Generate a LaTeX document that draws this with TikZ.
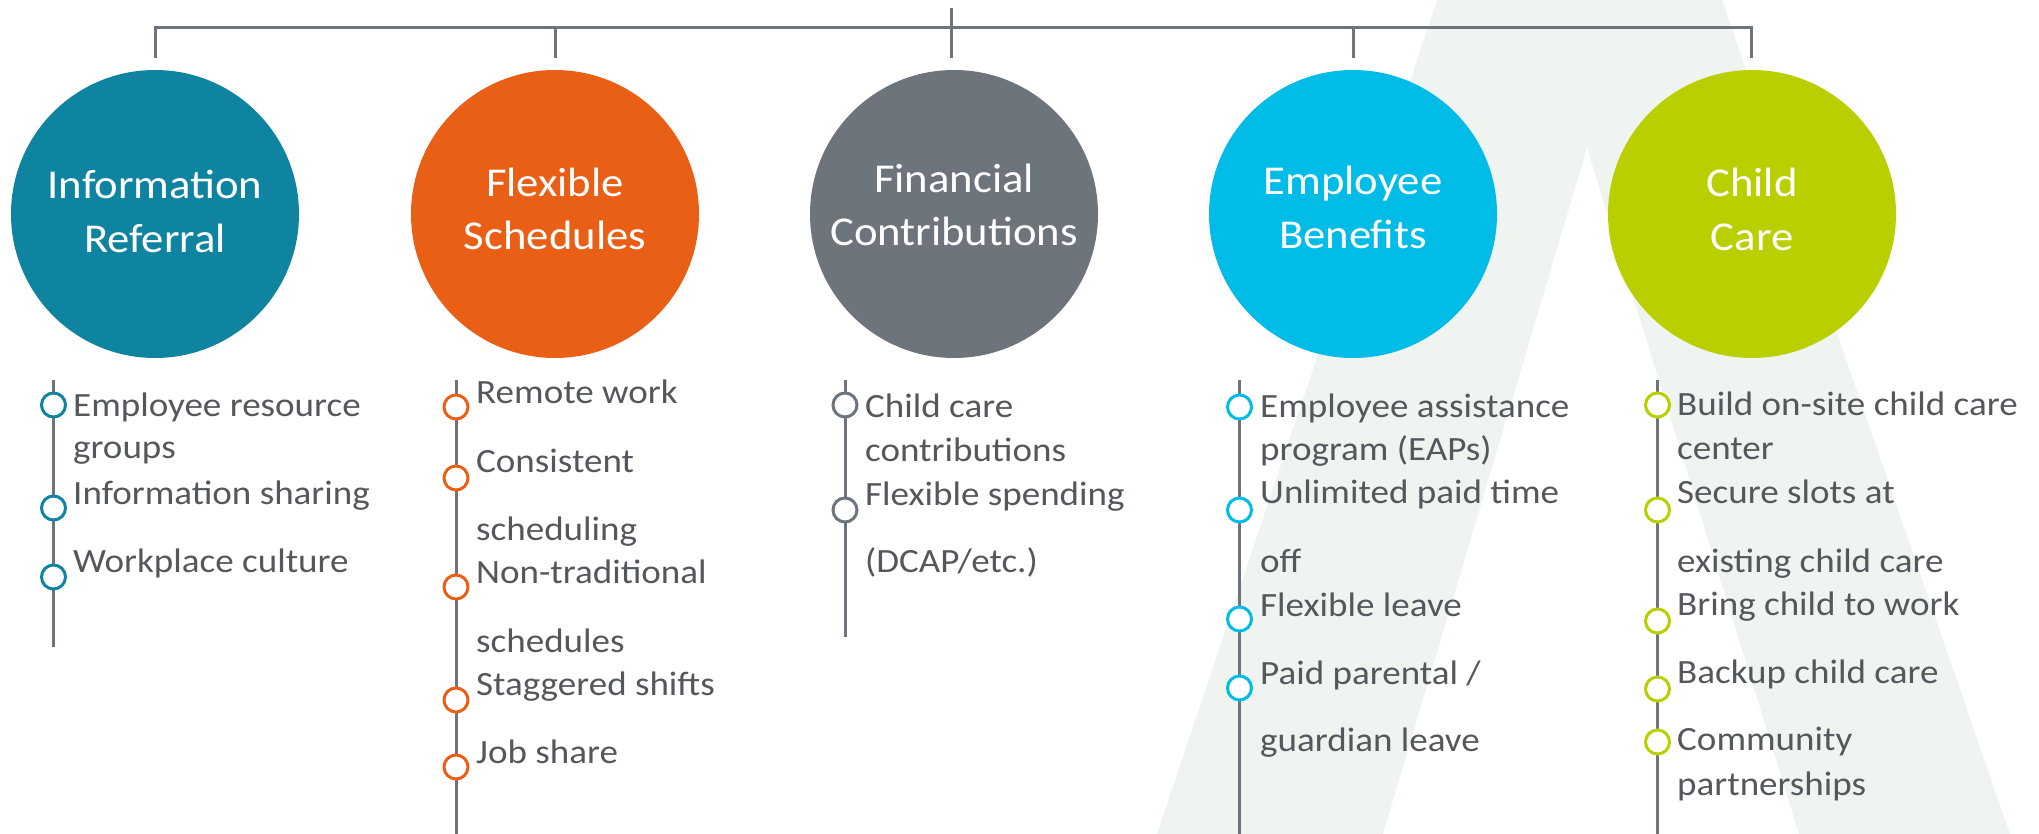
\documentclass[tikz,border=0pt]{standalone}
\usepackage{fontspec}
\setmainfont{Carlito}[FakeStretch=1.09]

\definecolor{infoTeal}{RGB}{14,132,160}
\definecolor{flexOrange}{RGB}{234,95,22}
\definecolor{finGrey}{RGB}{109,116,123}
\definecolor{beneCyan}{RGB}{0,188,231}
\definecolor{careLime}{RGB}{186,207,0}
\definecolor{ruleGrey}{RGB}{109,116,123}
\definecolor{copyGrey}{RGB}{84,88,93}
\definecolor{shapeTint}{RGB}{240,244,241}

\begin{document}
\begin{tikzpicture}[x=1pt,y=-1pt,
  bubble/.style={circle, fill=#1, minimum size=288pt, inner sep=0pt},
  headtext/.style={anchor=base, inner sep=0pt, text=white,
    font=\fontsize{41}{54}\selectfont},
  itemtext/.style={anchor=base west, inner sep=0pt, text=copyGrey,
    font=\fontsize{34}{42}\selectfont},
  ring/.style={circle, draw=#1, fill=white, line width=3pt,
    minimum size=24pt, inner sep=0pt},
  rule/.style={draw=ruleGrey, line width=3pt},
  stem/.style={draw=ruleGrey, line width=3pt}
]
\useasboundingbox (0,0) rectangle (2039,834);

% pale letter-shape in the background
\fill[shapeTint] (1437,0) -- (1722,0) -- (2010,834) -- (1799,834)
  -- (1587,148) -- (1383,834) -- (1157,834) -- cycle;

% category circles
\node[bubble=infoTeal]   (c1) at (155,214)  {};
\node[bubble=flexOrange] (c2) at (555,214)  {};
\node[bubble=finGrey]    (c3) at (954,214)  {};
\node[bubble=beneCyan]   (c4) at (1353,214) {};
\node[bubble=careLime]   (c5) at (1752,214) {};

% tree connectors on top
\coordinate (root) at (951,8);
\coordinate (hub)  at (951,28);
\coordinate (b1) at (155,28);
\coordinate (b2) at (555,28);
\coordinate (b4) at (1353,28);
\coordinate (b5) at (1751,28);
\coordinate (s1) at (155,58);
\coordinate (s2) at (555,58);
\coordinate (s3) at (951,58);
\coordinate (s4) at (1353,58);
\coordinate (s5) at (1751,58);
\draw[rule, line join=miter] (s1) -- (b1) -- (b5) -- (s5);
\draw[rule] (b2) -- (s2);
\draw[rule] (root) -- (s3);
\draw[rule] (b4) -- (s4);

% circle titles
\node[headtext] (h1a) at (155,199)  {Information};
\node[headtext] (h1b) at (155,253)  {Referral};
\node[headtext] (h2a) at (555,197)  {Flexible};
\node[headtext] (h2b) at (555,250)  {Schedules};
\node[headtext] (h3a) at (954,193)  {Financial};
\node[headtext] (h3b) at (954,246)  {Contributions};
\node[headtext] (h4a) at (1353,195) {Employee};
\node[headtext] (h4b) at (1353,249) {Benefits};
\node[headtext] (h5a) at (1752,197) {Child};
\node[headtext] (h5b) at (1752,251) {Care};

% list stems
\coordinate (t1) at (53.5,380);   \coordinate (e1) at (53.5,647);
\coordinate (t2) at (456,380);    \coordinate (e2) at (456,840);
\coordinate (t3) at (845,380);    \coordinate (e3) at (845,637);
\coordinate (t4) at (1239.5,380); \coordinate (e4) at (1239.5,840);
\coordinate (t5) at (1657.5,380); \coordinate (e5) at (1657.5,840);
\draw[stem] (t1) -- (e1);
\draw[stem] (t2) -- (e2);
\draw[stem] (t3) -- (e3);
\draw[stem] (t4) -- (e4);
\draw[stem] (t5) -- (e5);

% Information Referral
\node[ring=infoTeal] (r1a) at (53.5,405) {};
\node[ring=infoTeal] (r1b) at (53.5,508) {};
\node[ring=infoTeal] (r1c) at (53.5,577) {};
\node[itemtext] (i1a) at (73,416) {Employee resource};
\node[itemtext] (i1b) at (73,458) {groups};
\node[itemtext] (i1c) at (73,504) {Information sharing};
\node[itemtext] (i1d) at (73,572) {Workplace culture};

% Flexible Schedules
\node[ring=flexOrange] (r2a) at (456,407) {};
\node[ring=flexOrange] (r2b) at (456,478) {};
\node[ring=flexOrange] (r2c) at (456,587) {};
\node[ring=flexOrange] (r2d) at (456,700) {};
\node[ring=flexOrange] (r2e) at (456,767) {};
\node[itemtext] (i2a) at (476,403) {Remote work};
\node[itemtext] (i2b) at (476,472) {Consistent};
\node[itemtext] (i2c) at (476,540) {scheduling};
\node[itemtext] (i2d) at (476,583) {Non-traditional};
\node[itemtext] (i2e) at (476,652) {schedules};
\node[itemtext] (i2f) at (476,695) {Staggered shifts};
\node[itemtext] (i2g) at (476,763) {Job share};

% Financial Contributions
\node[ring=finGrey] (r3a) at (845,405) {};
\node[ring=finGrey] (r3b) at (845,510) {};
\node[itemtext] (i3a) at (865,417) {Child care};
\node[itemtext] (i3b) at (865,461) {contributions};
\node[itemtext] (i3c) at (865,505) {Flexible spending};
\node[itemtext] (i3d) at (865,572) {(DCAP/etc.)};

% Employee Benefits
\node[ring=beneCyan] (r4a) at (1239.5,407) {};
\node[ring=beneCyan] (r4b) at (1239.5,510) {};
\node[ring=beneCyan] (r4c) at (1239.5,619) {};
\node[ring=beneCyan] (r4d) at (1239.5,688) {};
\node[itemtext] (i4a) at (1260,417) {Employee assistance};
\node[itemtext] (i4b) at (1260,460) {program (EAPs)};
\node[itemtext] (i4c) at (1260,503) {Unlimited paid time};
\node[itemtext] (i4d) at (1260,572) {off};
\node[itemtext] (i4e) at (1260,616) {Flexible leave};
\node[itemtext] (i4f) at (1260,684) {Paid parental /};
\node[itemtext] (i4g) at (1260,751) {guardian leave};

% Child Care
\node[ring=careLime] (r5a) at (1657.5,405) {};
\node[ring=careLime] (r5b) at (1657.5,510) {};
\node[ring=careLime] (r5c) at (1657.5,621) {};
\node[ring=careLime] (r5d) at (1657.5,689) {};
\node[ring=careLime] (r5e) at (1657.5,742) {};
\node[itemtext] (i5a) at (1677,415) {Build on-site child care};
\node[itemtext] (i5b) at (1677,459) {center};
\node[itemtext] (i5c) at (1677,503) {Secure slots at};
\node[itemtext] (i5d) at (1677,572) {existing child care};
\node[itemtext] (i5e) at (1677,615) {Bring child to work};
\node[itemtext] (i5f) at (1677,683) {Backup child care};
\node[itemtext] (i5g) at (1677,750) {Community};
\node[itemtext] (i5h) at (1677,795) {partnerships};
\end{tikzpicture}
\end{document}
